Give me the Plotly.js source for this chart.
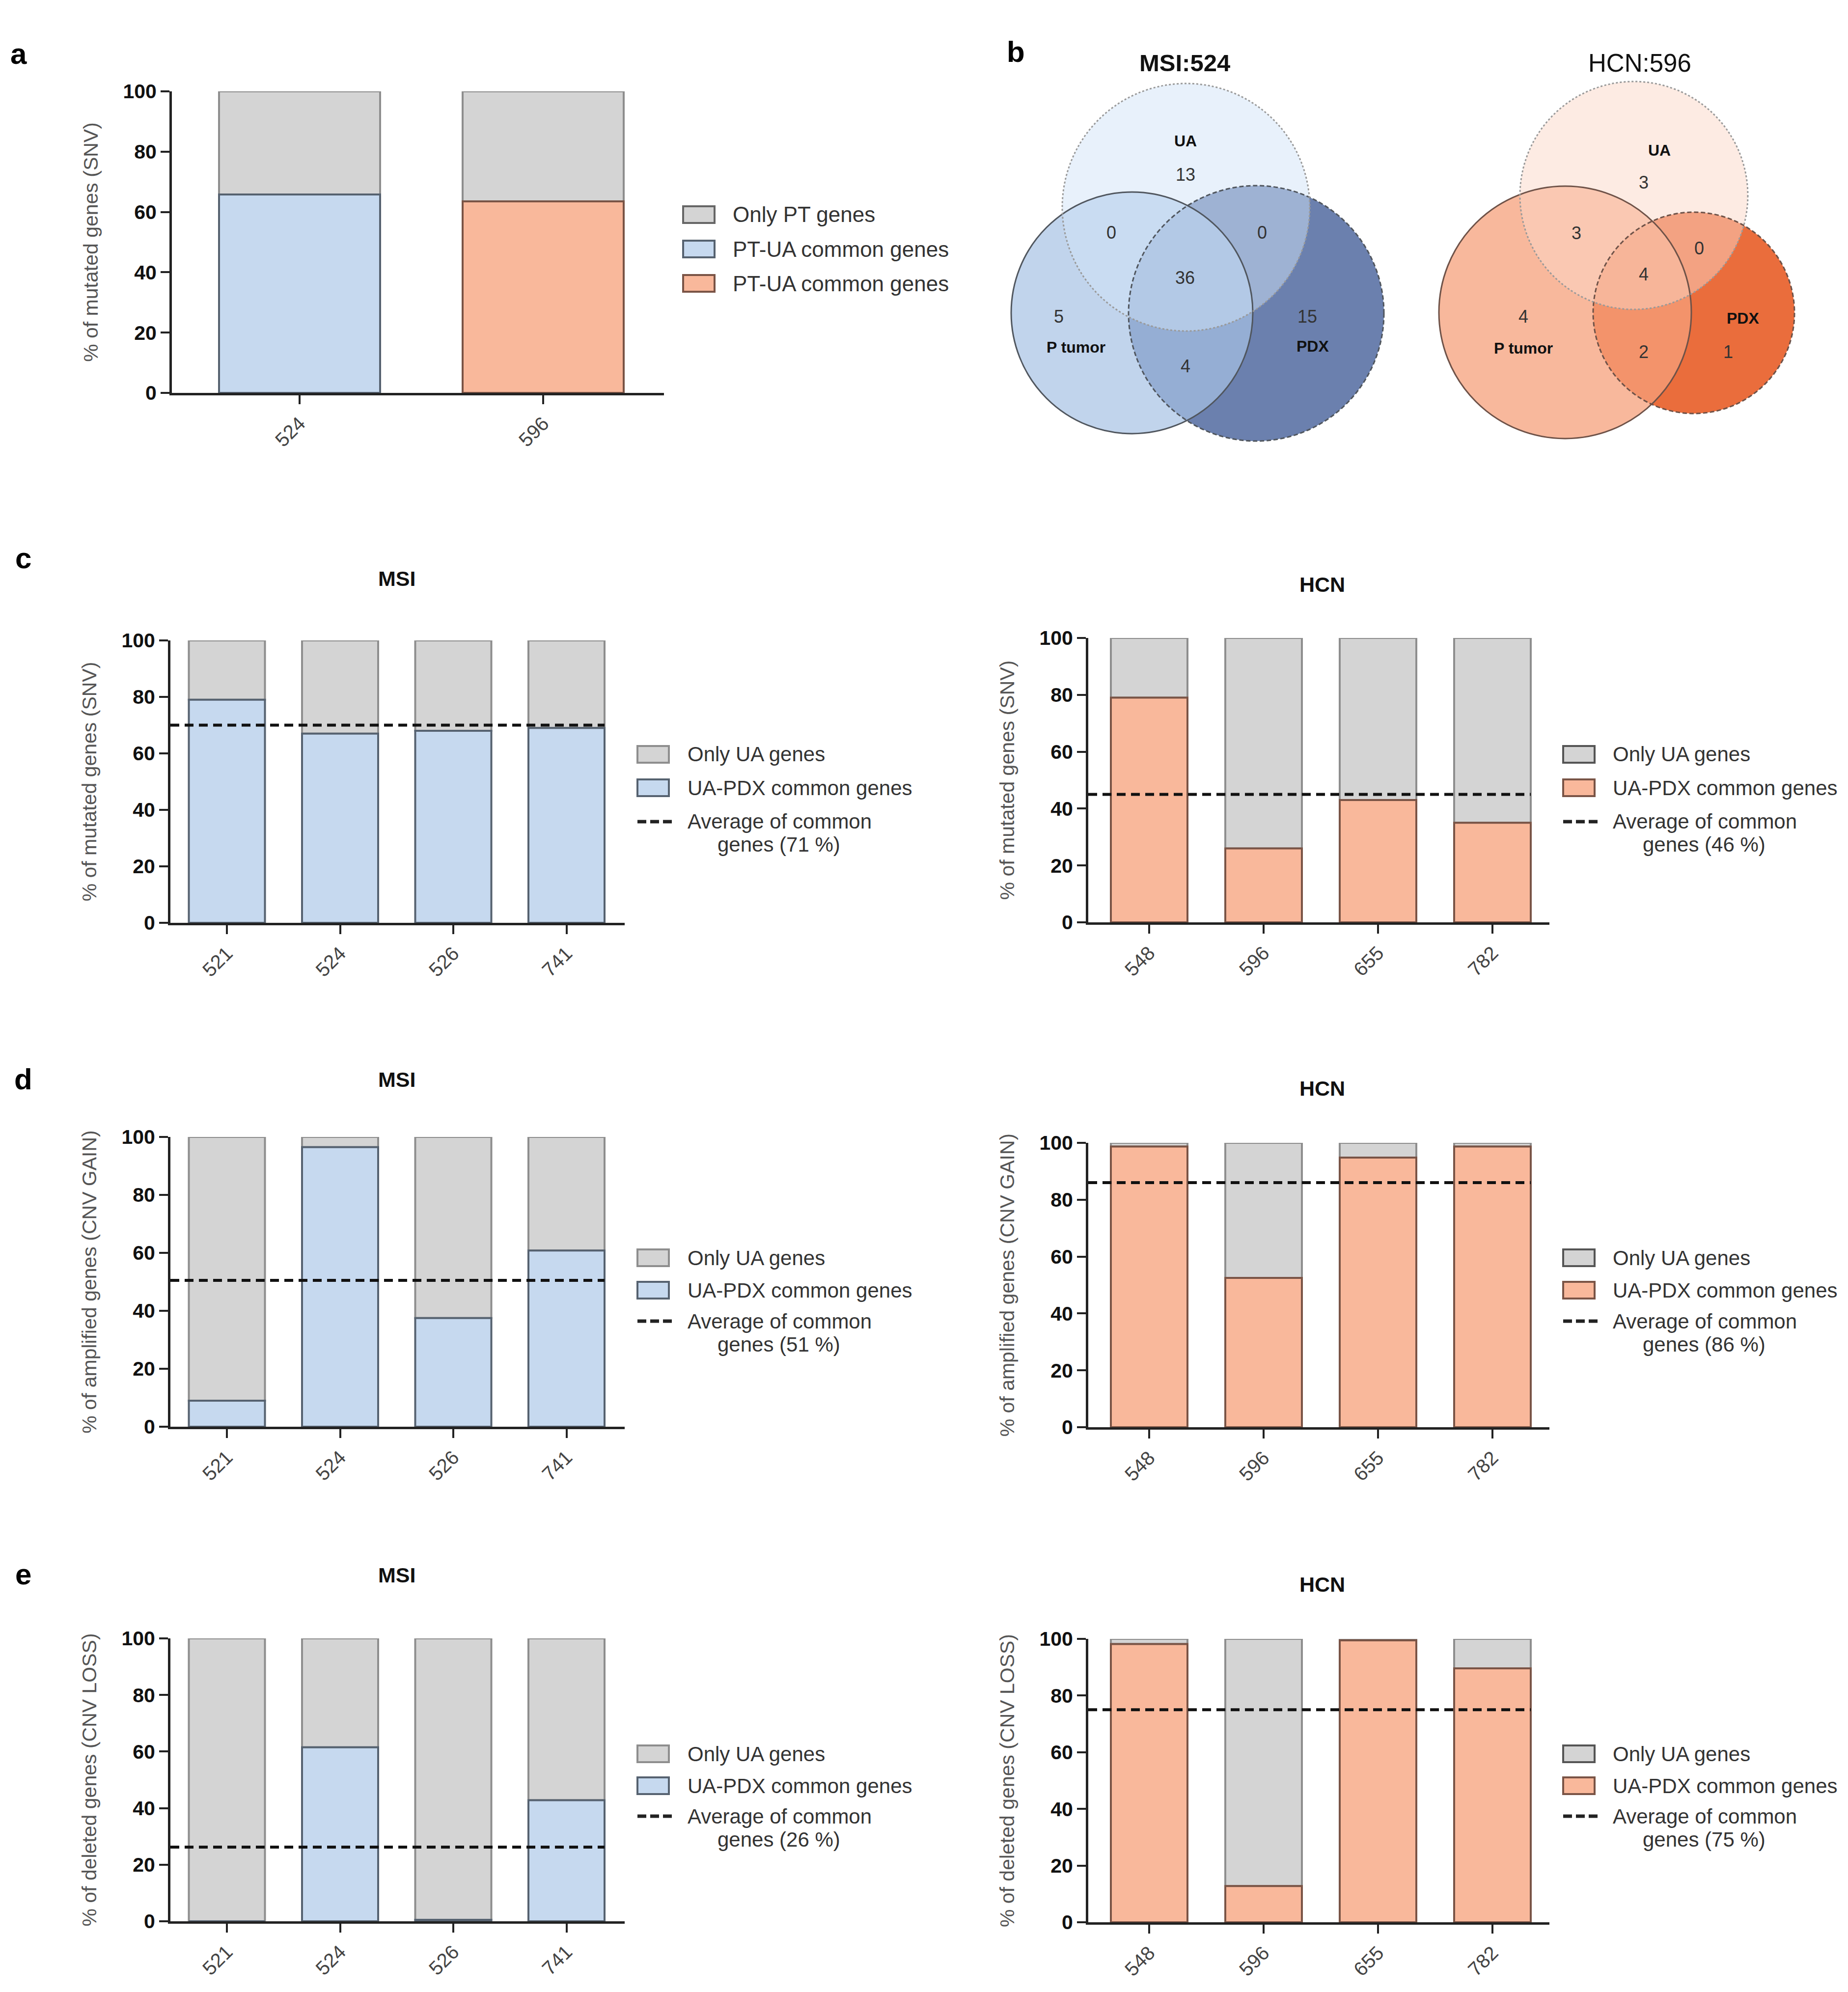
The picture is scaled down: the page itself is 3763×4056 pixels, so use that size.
<!DOCTYPE html>
<html><head><meta charset="utf-8">
<script src="https://cdn.plot.ly/plotly-3.0.1.min.js"></script>
<style>html,body{margin:0;padding:0;background:#fff}#chart{width:3763px;height:4056px}</style>
</head><body><div id="chart"></div>
<script>
// ---------------- data ----------------
const aCats = ['524', '596'];
const aCommon = [65.8, 63.5];
const msiCats = ['521', '524', '526', '741'];
const hcnCats = ['548', '596', '655', '782'];
const snvMsiCommon = [79, 67, 68, 69];
const snvHcnCommon = [79, 26, 43, 35];
const gainMsiCommon = [9, 96.5, 37.5, 60.8];
const gainHcnCommon = [98.7, 52.5, 94.8, 98.7];
const lossMsiCommon = [0, 61.5, 0.5, 42.8];
const lossHcnCommon = [98.2, 12.8, 99.5, 89.6];
const avgLevels = [70, 45, 50.5, 86, 26.2, 75];
const avgLabels = [71, 46, 51, 86, 26, 75];
const vennRegions = ['UA', 'UA-P', 'UA-PDX', 'UA-P-PDX', 'P', 'PDX', 'P-PDX'];
const msiVenn = [13, 0, 0, 36, 5, 15, 4];
const hcnVenn = [3, 3, 0, 4, 4, 1, 2];

// ---------------- styling / layout ----------------
const W = 3763, H = 4056;
const FONT = '"Liberation Sans", Arial, sans-serif';
const GRAY = '#d4d4d4', GRAYLINE = '#8e8e8e';
const BLUE = '#c6d9ef', BLUELINE = '#566270';
const SAL = '#f9b89b', SALLINE = '#7a5446';
const traces = [], shapes = [], annotations = [];
const layout = {
  width: W, height: H, margin: {l: 0, r: 0, t: 0, b: 0},
  paper_bgcolor: '#fff', plot_bgcolor: 'rgba(0,0,0,0)',
  showlegend: false, barmode: 'overlay', font: {family: FONT}
};
const X = p => p / W, Y = p => 1 - p / H;
let axN = 0;

function barPanel(g, cats, common, colour, lineColour, yTitle, avg) {
  axN++;
  const s = axN === 1 ? '' : String(axN);
  const xa = 'x' + s, ya = 'y' + s;
  const idx = cats.map((c, i) => i);
  const bw = g.barW / g.sp;
  const only = common.map(v => 100 - v);
  traces.push({type: 'bar', x: idx, y: only, base: common, xaxis: xa, yaxis: ya, width: bw,
    marker: {color: GRAY, line: {color: GRAYLINE, width: 4}}, hoverinfo: 'skip'});
  traces.push({type: 'bar', x: idx, y: common, xaxis: xa, yaxis: ya, width: bw,
    marker: {color: colour, line: {color: lineColour, width: 4}}, hoverinfo: 'skip'});
  const r0 = (g.ax - g.c0) / g.sp, r1 = (g.end - g.c0) / g.sp;
  if (avg !== undefined) {
    traces.push({type: 'scatter', mode: 'lines', x: [r0, cats.length - 1 + bw / 2], y: [avg, avg],
      xaxis: xa, yaxis: ya, line: {color: '#111', width: 6, dash: '18px,11px'}, hoverinfo: 'skip', cliponaxis: false});
  }
  layout['xaxis' + s] = {domain: [X(g.ax), X(g.end)], anchor: ya, range: [r0, r1], tickvals: idx, ticktext: cats,
    tickangle: -45, ticks: 'outside', ticklen: 18, tickwidth: 4, tickcolor: '#222', showline: true,
    linecolor: '#222', linewidth: 5, showgrid: false, zeroline: false,
    tickfont: {family: FONT, size: 40, color: '#444'}};
  layout['yaxis' + s] = {domain: [Y(g.bot), Y(g.top)], anchor: xa, range: [0, 100], tickvals: [0, 20, 40, 60, 80, 100],
    ticks: 'outside', ticklen: 18, tickwidth: 4, tickcolor: '#222', showline: true, linecolor: '#222', linewidth: 5,
    showgrid: false, zeroline: false, tickfont: {family: FONT, size: 41, color: '#111', weight: 'bold'},
    title: {text: yTitle, font: {family: FONT, size: 41, color: '#555'}, standoff: 40}};
}

function text(x, y, t, size, opts) {
  annotations.push(Object.assign({xref: 'paper', yref: 'paper', x: X(x), y: Y(y), text: t, showarrow: false,
    xanchor: 'center', yanchor: 'middle', font: {family: FONT, size: size, color: '#222'}}, opts || {}));
}

function legend(bx, tx, rows, items, size) {
  items.forEach((it, i) => {
    const ry = rows[i];
    if (it.type === 'box') {
      shapes.push({type: 'rect', xref: 'paper', yref: 'paper', x0: X(bx), x1: X(bx + 64), y0: Y(ry + 17), y1: Y(ry - 17),
        fillcolor: it.fill, line: {color: it.line, width: 4}});
      text(tx, ry, it.text, size, {xanchor: 'left', font: {family: FONT, size: size, color: '#333'}});
    } else {
      shapes.push({type: 'line', xref: 'paper', yref: 'paper', x0: X(bx), x1: X(bx + 70), y0: Y(ry), y1: Y(ry),
        line: {color: '#222', width: 7, dash: '18px,8px'}});
      text(tx, ry, it.text, size, {xanchor: 'left', font: {family: FONT, size: size, color: '#333'}});
      text(tx + 188, rows[i + 1], it.text2, size, {font: {family: FONT, size: size, color: '#333'}});
    }
  });
}

// ---------- panel a ----------
barPanel({ax: 350, c0: 610, sp: 496, barW: 328, end: 1352, top: 186, bot: 800}, aCats, aCommon, BLUE, BLUELINE,
  '% of mutated genes (SNV)');
// colour second bar of panel a salmon
traces[1].marker.color = [BLUE, SAL];
traces[1].marker.line.color = [BLUELINE, SALLINE];
legend(1391, 1490, [437, 507, 577], [
  {type: 'box', fill: GRAY, line: '#666', text: 'Only PT genes'},
  {type: 'box', fill: BLUE, line: BLUELINE, text: 'PT-UA common genes'},
  {type: 'box', fill: SAL, line: SALLINE, text: 'PT-UA common genes'}], 44);

// ---------- panels c, d, e ----------
const leftG = {ax: 347, c0: 462, sp: 230.5, barW: 155, end: 1272};
const rightG = {ax: 2216, c0: 2340, sp: 233, barW: 156, end: 3155};
const rowsL = [{top: 1304, bot: 1879}, {top: 2315, bot: 2905}, {top: 3336, bot: 3912}];
const rowsR = [{top: 1299, bot: 1878}, {top: 2327, bot: 2906}, {top: 3337, bot: 3914}];
const titles = ['% of mutated genes (SNV)', '% of amplified genes (CNV GAIN)', '% of deleted genes (CNV LOSS)'];
const msiData = [snvMsiCommon, gainMsiCommon, lossMsiCommon];
const hcnData = [snvHcnCommon, gainHcnCommon, lossHcnCommon];
const legRows = [[1536, 1604, 1673, 1719], [2561, 2627, 2690, 2737], [3571, 3636, 3698, 3745]];
const titleY = [[1178, 1190], [2198, 2216], [3207, 3226]];
const letters = ['c', 'd', 'e'];
const letterY = [1137, 2197, 3205];
for (let k = 0; k < 3; k++) {
  barPanel(Object.assign({}, leftG, rowsL[k]), msiCats, msiData[k], BLUE, BLUELINE, titles[k], avgLevels[2 * k]);
  barPanel(Object.assign({}, rightG, rowsR[k]), hcnCats, hcnData[k], SAL, SALLINE, titles[k], avgLevels[2 * k + 1]);
  legend(1298, 1398, legRows[k], [
    {type: 'box', fill: GRAY, line: GRAYLINE, text: 'Only UA genes'},
    {type: 'box', fill: BLUE, line: BLUELINE, text: 'UA-PDX common genes'},
    {type: 'dash', text: 'Average of common', text2: 'genes (' + avgLabels[2 * k] + ' %)'}], 42);
  legend(3183, 3282, legRows[k], [
    {type: 'box', fill: GRAY, line: '#555', text: 'Only UA genes'},
    {type: 'box', fill: SAL, line: SALLINE, text: 'UA-PDX common genes'},
    {type: 'dash', text: 'Average of common', text2: 'genes (' + avgLabels[2 * k + 1] + ' %)'}], 42);
  text(808, titleY[k][0], 'MSI', 43, {font: {family: FONT, size: 43, color: '#111', weight: 'bold'}});
  text(2692, titleY[k][1], 'HCN', 43, {font: {family: FONT, size: 43, color: '#111', weight: 'bold'}});
  text(47, letterY[k], letters[k], 60, {font: {family: FONT, size: 60, color: '#000', weight: 'bold'}});
}
text(38, 110, 'a', 60, {font: {family: FONT, size: 60, color: '#000', weight: 'bold'}});
text(2068, 106, 'b', 60, {font: {family: FONT, size: 60, color: '#000', weight: 'bold'}});

// ---------- panel b: Venn diagrams ----------
function circle(c, fill, line) {
  shapes.push({type: 'circle', xref: 'paper', yref: 'paper', x0: X(c[0] - c[2]), x1: X(c[0] + c[2]),
    y0: Y(c[1] + c[2]), y1: Y(c[1] - c[2]), fillcolor: fill, line: line || {width: 0}});
}
function venn(geo, counts, pos, labelPos, cols, outline, title, bold) {
  circle(geo.pdx, cols.pdx);
  circle(geo.p, cols.p);
  circle(geo.ua, cols.ua);
  circle(geo.pdx, 'rgba(0,0,0,0)', {color: outline, width: 3, dash: '9px,5px'});
  circle(geo.p, 'rgba(0,0,0,0)', {color: outline, width: 3});
  circle(geo.ua, 'rgba(0,0,0,0)', {color: '#9a9a9a', width: 3, dash: '4px,4px'});
  counts.forEach((v, i) => text(pos[i][0], pos[i][1], String(v), 36, {font: {family: FONT, size: 36, color: '#333'}}));
  const names = ['UA', 'P tumor', 'PDX'];
  names.forEach((n, i) => text(labelPos[i][0], labelPos[i][1], n, 32, {font: {family: FONT, size: 32, color: '#111', weight: 'bold'}}));
  text(title.x, title.y, title.t, bold ? 49 : 51, {font: {family: FONT, size: bold ? 49 : 51, color: '#111', weight: bold ? 'bold' : 'normal'}});
}
venn({ua: [2415, 422, 252], p: [2305, 637, 246], pdx: [2558, 638, 260]}, msiVenn,
  [[2414, 355], [2263, 473], [2570, 473], [2413, 565], [2156, 644], [2662, 644], [2414, 745]],
  [[2414, 287], [2191, 707], [2673, 705]],
  {pdx: 'rgb(107,128,174)', p: 'rgba(166,194,228,0.7)', ua: 'rgba(209,227,247,0.5)'}, '#50565e',
  {x: 2412, y: 128, t: 'MSI:524'}, true);
venn({ua: [3327, 398, 232], p: [3187, 636, 257], pdx: [3449, 637, 205]}, hcnVenn,
  [[3347, 371], [3210, 475], [3460, 505], [3347, 559], [3102, 644], [3519, 716], [3347, 716]],
  [[3379, 306], [3102, 709], [3549, 648]],
  {pdx: 'rgb(234,109,60)', p: 'rgba(246,160,123,0.75)', ua: 'rgba(251,215,199,0.5)'}, '#6e5248',
  {x: 3339, y: 128, t: 'HCN:596'}, false);

layout.shapes = shapes;
layout.annotations = annotations;
Plotly.newPlot('chart', traces, layout, {displayModeBar: false, staticPlot: true});
</script>
</body></html>
